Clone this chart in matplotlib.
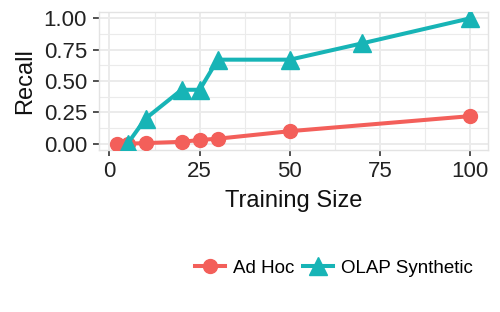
import matplotlib
matplotlib.use("Agg")
import matplotlib.pyplot as plt
from matplotlib.ticker import MultipleLocator
from matplotlib.lines import Line2D

plt.rcParams["font.family"] = ["Liberation Sans", "DejaVu Sans"]

# ---- data ------------------------------------------------------------
adhoc_x = [2, 5, 10, 20, 25, 30, 50, 100]
adhoc_y = [0.0, 0.0, 0.005, 0.015, 0.03, 0.04, 0.10, 0.22]
olap_x = [5, 10, 20, 25, 30, 50, 70, 100]
olap_y = [0.0, 0.20, 0.43, 0.43, 0.67, 0.67, 0.80, 1.00]

RED = "#F35F5A"
TEAL = "#17B4B6"

fig = plt.figure(figsize=(5.0, 3.12), dpi=100)
ax = fig.add_axes([99 / 500, 1 - 150 / 312, 389 / 500, 138 / 312])

ax.plot(adhoc_x, adhoc_y, color=RED, lw=2.9, marker="o", ms=10,
        solid_capstyle="butt", zorder=3)
ax.plot(olap_x, olap_y, color=TEAL, lw=2.9, marker="^", ms=13.5,
        solid_capstyle="butt", zorder=3)

ax.set_xlim(-2.9, 104.9)
ax.set_ylim(-0.05, 1.05)
ax.xaxis.set_major_locator(MultipleLocator(25))
ax.xaxis.set_minor_locator(MultipleLocator(12.5))
ax.yaxis.set_minor_locator(MultipleLocator(0.125))
ax.set_yticks([0, 0.25, 0.5, 0.75, 1.0])
ax.set_yticklabels(["0.00", "0.25", "0.50", "0.75", "1.00"])

ax.grid(which="major", color="#EBEBEB", lw=1.4, zorder=0)
ax.grid(which="minor", color="#EBEBEB", lw=0.8, zorder=0)
ax.set_axisbelow(True)
for s in ax.spines.values():
    s.set_color("#E3E3E3")
    s.set_linewidth(1.0)

ax.tick_params(which="major", length=4.2, width=1.2, color="#333333",
               labelsize=16, labelcolor="#222222")
ax.tick_params(axis="x", pad=3.5)
ax.tick_params(axis="y", pad=4.5)
ax.tick_params(which="minor", length=0)

ax.set_xlabel("Training Size", fontsize=17, color="#111111", labelpad=6)
ax.set_ylabel("Recall", fontsize=17, color="#111111", labelpad=5)

handles = [
    Line2D([], [], color=RED, lw=2.9, marker="o", ms=10),
    Line2D([], [], color=TEAL, lw=2.9, marker="^", ms=12.5),
]
fig.legend(handles, ["Ad Hoc", "OLAP Synthetic"], loc="center",
           bbox_to_anchor=(334 / 500, 1 - 268 / 312), ncol=2, frameon=False,
           fontsize=13.5, handlelength=1.6, handletextpad=0.45,
           columnspacing=0.45)

fig.savefig("out.png", dpi=100)
